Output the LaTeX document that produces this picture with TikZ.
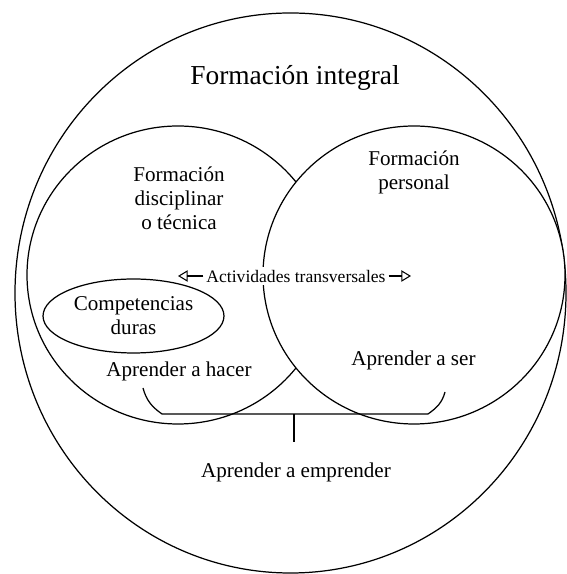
\documentclass[tikz,border=0pt]{standalone}
\usepackage{fontspec}
\setmainfont{Liberation Serif}
\usetikzlibrary{arrows.meta,shapes.geometric}
\tikzset{
  ring/.style={draw, line width=0.7pt, fill=white},
  lbl/.style={font=\rmfamily\fontsize{12}{13.6}\selectfont, align=center, inner sep=1pt},
  tip/.style={-{Triangle[open, length=5.5pt, width=6.5pt]}, line width=0.6pt}
}

\begin{document}
\begin{tikzpicture}[x=0.02cm, y=0.02cm]
			%%%%% START %%%%%
			\useasboundingbox (0, 0) rectangle (567, 574);
			
			\draw[ring] (290.5, 281) ellipse [x radius=275.5, y radius=280];
			\draw[ring] (178, 299) ellipse [x radius=151, y radius=149];
			\draw[ring] (414, 299) ellipse [x radius=151, y radius=149];
			
			\node[font=\rmfamily\fontsize{15.6}{18}\selectfont] (integral) at (295, 496) {Formación integral};
			\node[lbl] (disciplinar) at (179, 376) {Formación\\disciplinar\\o técnica};
			\node[lbl] (personal) at (414, 401.5) {Formación\\personal};
			
			\node[lbl, draw, ellipse, line width=0.7pt, minimum width=3.62cm, minimum height=1.48cm, inner sep=0pt] (duras) at (133.5, 258) {Competencias\\duras};
			
			\node[lbl, font=\rmfamily\fontsize{10}{12}\selectfont, fill=white, inner sep=1.5pt] (transv) at (296, 298) {Actividades transversales};
			\coordinate (transvL) at (178, 298);
			\coordinate (transvR) at (411, 298);
			\draw[tip] (transv.west) -- (transvL);
			\draw[tip] (transv.east) -- (transvR);
			
			\node[lbl] (hacer) at (179, 203) {Aprender a hacer};
			\node[lbl] (ser) at (413.5, 214) {Aprender a ser};
			\node[lbl] (emprender) at (296, 102) {Aprender a emprender};
			
			% llave
			\coordinate (llaveL) at (143, 186);
			\coordinate (llaveR) at (445, 182);
			\coordinate (llaveM) at (294, 160);
			\coordinate (llaveB) at (294, 132);
			\draw[line width=0.7pt] (llaveL) to[out=-75, in=145] (162, 160) -- (428, 160) to[out=35, in=-105] (llaveR);
			\draw[line width=0.7pt] (llaveM) -- (llaveB);
			%%%%% END %%%%%
		\end{tikzpicture}
\end{document}
